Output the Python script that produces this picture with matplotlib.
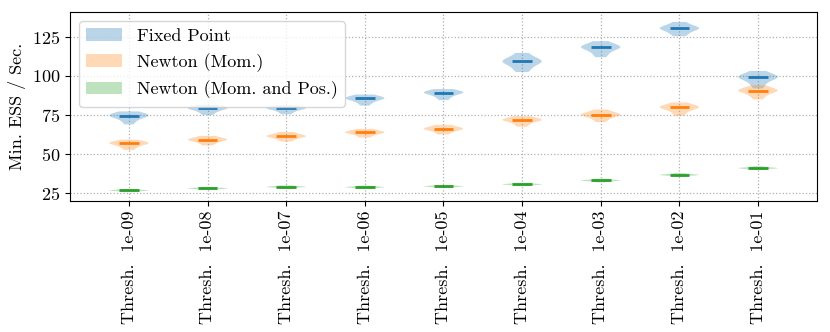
import numpy as np
import matplotlib.pyplot as plt
from matplotlib.patches import Patch

plt.rcParams['font.family'] = 'serif'
plt.rcParams['font.serif'] = ['cmr10']
plt.rcParams['mathtext.fontset'] = 'cm'
plt.rcParams['axes.formatter.use_mathtext'] = True
plt.rcParams['axes.unicode_minus'] = False

thresholds = ['1e-09', '1e-08', '1e-07', '1e-06', '1e-05', '1e-04', '1e-03', '1e-02', '1e-01']
series_names = ['Fixed Point', 'Newton (Mom.)', 'Newton (Mom. and Pos.)']

# hand-read samples per violin (min ESS / sec), one list per threshold
fixed_point = [
    [69.0, 71.0, 72.3, 73.5, 74.2, 74.6, 74.6, 75.0, 75.7, 76.6, 77.3],
    [75.0, 76.5, 77.3, 78.5, 79.0, 79.3, 79.3, 79.6, 80.2, 81.0, 81.6],
    [75.5, 76.8, 77.6, 78.6, 79.0, 79.3, 79.3, 79.6, 80.1, 80.7, 81.2],
    [81.0, 82.8, 83.7, 84.9, 85.4, 85.7, 85.7, 86.0, 86.6, 87.4, 88.1],
    [84.5, 86.2, 87.2, 88.5, 89.0, 89.3, 89.3, 89.6, 90.2, 91.0, 91.6],
    [102.5, 104.5, 106.0, 108.2, 109.0, 109.4, 109.4, 109.8, 111.0, 113.0, 114.8],
    [112.0, 114.0, 115.5, 117.4, 118.0, 118.4, 118.4, 118.8, 119.7, 121.0, 122.3],
    [125.5, 127.0, 128.0, 129.7, 130.3, 130.6, 130.6, 130.9, 131.8, 133.3, 134.6],
    [92.0, 94.5, 96.0, 98.2, 98.9, 99.2, 99.2, 99.5, 100.5, 102.0, 103.2],
]
newton_mom = [
    [52.5, 54.0, 55.0, 56.2, 56.6, 56.9, 56.9, 57.2, 57.8, 58.5, 59.2],
    [55.5, 56.8, 57.6, 58.6, 59.0, 59.2, 59.2, 59.5, 60.1, 60.9, 61.6],
    [58.0, 59.3, 60.1, 60.9, 61.3, 61.5, 61.5, 61.8, 62.5, 63.3, 64.1],
    [60.5, 61.7, 62.5, 63.3, 63.7, 63.9, 63.9, 64.2, 64.8, 65.5, 66.1],
    [62.5, 63.8, 64.7, 65.6, 66.0, 66.2, 66.2, 66.5, 67.2, 68.0, 68.7],
    [67.5, 69.0, 70.0, 71.2, 71.6, 71.8, 71.8, 72.1, 72.8, 73.5, 74.2],
    [70.5, 72.2, 73.3, 74.5, 75.0, 75.2, 75.2, 75.5, 76.3, 77.4, 78.5],
    [74.5, 76.5, 77.7, 79.2, 79.7, 79.9, 79.9, 80.2, 81.0, 82.0, 83.0],
    [85.0, 87.0, 88.2, 89.9, 90.4, 90.6, 90.6, 90.9, 91.8, 93.0, 94.0],
]
newton_mom_pos = [
    [25.6, 26.0, 26.3, 26.5, 26.6, 26.7, 26.7, 26.8, 27.0, 27.3, 27.6],
    [26.9, 27.3, 27.6, 27.8, 27.9, 28.0, 28.0, 28.1, 28.3, 28.6, 28.9],
    [27.9, 28.3, 28.6, 28.8, 28.9, 29.0, 29.0, 29.1, 29.3, 29.6, 29.9],
    [27.7, 28.1, 28.4, 28.6, 28.7, 28.8, 28.8, 28.9, 29.1, 29.4, 29.7],
    [28.2, 28.6, 28.9, 29.1, 29.2, 29.3, 29.3, 29.4, 29.6, 29.9, 30.2],
    [29.4, 29.9, 30.2, 30.4, 30.5, 30.6, 30.6, 30.7, 30.9, 31.2, 31.6],
    [31.8, 32.4, 32.7, 32.9, 33.0, 33.1, 33.1, 33.2, 33.4, 33.8, 34.2],
    [35.4, 36.0, 36.3, 36.5, 36.6, 36.7, 36.7, 36.8, 37.0, 37.4, 37.9],
    [39.7, 40.3, 40.6, 40.8, 40.9, 41.0, 41.0, 41.1, 41.3, 41.7, 42.2],
]

fig = plt.figure(figsize=(8.3, 3.32), dpi=100)
ax = fig.add_axes([0.0843, 0.395, 0.9, 0.569])

positions = np.arange(1, len(thresholds) + 1)
colors = ['C0', 'C1', 'C2']
for data, c in zip([fixed_point, newton_mom, newton_mom_pos], colors):
    parts = ax.violinplot(data, positions=positions, showmedians=True,
                          showextrema=False, bw_method=0.6)
    for b in parts['bodies']:
        b.set_facecolor(c)
        b.set_edgecolor('none')
        b.set_alpha(0.3)
    parts['cmedians'].set_color(c)
    parts['cmedians'].set_linewidth(2)

ax.set_xlim(0.25, 9.75)
ax.set_ylim(20, 141)
ax.set_yticks([25, 50, 75, 100, 125])
ax.set_xticks(positions)
ax.set_xticklabels(['Thresh.  ' + t for t in thresholds], rotation=90, fontsize=13)
ax.tick_params(axis='y', labelsize=13)
ax.set_ylabel('Min. ESS / Sec.', fontsize=13)
ax.grid(True, linestyle=':', color='#b0b0b0', linewidth=0.9)
ax.set_axisbelow(True)

handles = [Patch(facecolor=c, alpha=0.3) for c in colors]
ax.legend(handles, series_names, loc='upper left', fontsize=13)

fig.savefig('out.png')
